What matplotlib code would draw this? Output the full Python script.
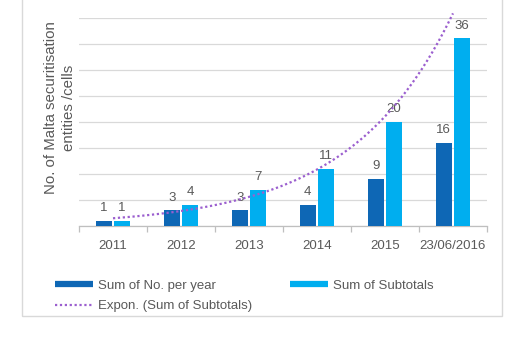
import numpy as np
import matplotlib
matplotlib.use("Agg")
import matplotlib.pyplot as plt
from matplotlib.lines import Line2D
from matplotlib.patches import Rectangle

plt.rcParams["font.family"] = ["Liberation Sans", "DejaVu Sans"]

CATEGORIES = ["2011", "2012", "2013", "2014", "2015", "23/06/2016"]
PER_YEAR = [1, 3, 3, 4, 9, 16]
SUBTOTALS = [1, 4, 7, 11, 20, 36]

DARK = "#0e67b5"
LIGHT = "#00aeef"
TREND = "#9b5fcf"
GREY = "#595959"


def main():
    fig = plt.figure(figsize=(5.12, 3.41), dpi=100)
    # outer chart-area border (top edge runs off the picture)
    fig.patches.append(Rectangle((22 / 512, 1 - 316 / 341), 480 / 512, 0.95,
                                 transform=fig.transFigure, fill=False,
                                 edgecolor="#d9d9d9", linewidth=1.0))
    ax = fig.add_axes([79 / 512, 1 - 226 / 341, 408 / 512, 208.5 / 341])

    x = np.arange(len(CATEGORIES))
    w = 0.23
    off = 0.135
    b1 = ax.bar(x - off, PER_YEAR, width=w, color=DARK, zorder=3)
    b2 = ax.bar(x + off, SUBTOTALS, width=w, color=LIGHT, zorder=3)
    for bars, vals in ((b1, PER_YEAR), (b2, SUBTOTALS)):
        for r, v in zip(bars, vals):
            ax.text(r.get_x() + r.get_width() / 2, v + 1.3, str(v),
                    ha="center", va="bottom", fontsize=9.5, color=GREY, zorder=4)

    # exponential trendline fitted to the subtotals (like Excel "Expon.")
    k, c = np.polyfit(x + 1, np.log(SUBTOTALS), 1)
    xs = np.linspace(0, 5, 200)
    ax.plot(xs, np.exp(c + k * (xs + 1)), linestyle=(0, (1, 1.2)), color=TREND,
            linewidth=1.6, zorder=5, clip_on=False)

    ax.set_xlim(-0.5, 5.5)
    ax.set_ylim(0, 40)
    ax.set_yticks(np.arange(0, 41, 5))
    ax.tick_params(axis="y", length=0, labelleft=False)
    ax.grid(axis="y", color="#d9d9d9", linewidth=0.9, zorder=0)
    ax.set_xticks(x)
    ax.set_xticklabels(CATEGORIES, fontsize=9.5, color=GREY)
    ax.set_xticks(np.arange(-0.5, 6, 1), minor=True)
    ax.tick_params(axis="x", which="major", length=0, pad=10)
    ax.tick_params(axis="x", which="minor", length=4, color="#bfbfbf", width=0.9)
    for s in ("top", "right", "left"):
        ax.spines[s].set_visible(False)
    ax.spines["bottom"].set_color("#bfbfbf")
    ax.spines["bottom"].set_linewidth(0.9)

    fig.text(60 / 512, 1 - 108 / 341, "No. of Malta securitisation\nentities /cells",
             rotation=90, ha="center", va="center", fontsize=10.8, color=GREY,
             multialignment="center", linespacing=1.3)

    handles = [
        Line2D([], [], color=DARK, linewidth=4.5, solid_capstyle="butt"),
        Line2D([], [], color=TREND, linewidth=1.6, linestyle=(0, (1, 1.2))),
        Line2D([], [], color=LIGHT, linewidth=4.5, solid_capstyle="butt"),
    ]
    labels = ["Sum of No. per year", "Expon. (Sum of Subtotals)", "Sum of Subtotals"]
    fig.legend(handles, labels, ncol=2, loc="upper left",
               bbox_to_anchor=(43 / 512, 1 - 268 / 341), frameon=False,
               fontsize=9.5, handlelength=2.9, handletextpad=0.35,
               columnspacing=2.9, labelspacing=0.6, labelcolor=GREY)

    fig.savefig("out.png", dpi=100)


if __name__ == "__main__":
    main()
